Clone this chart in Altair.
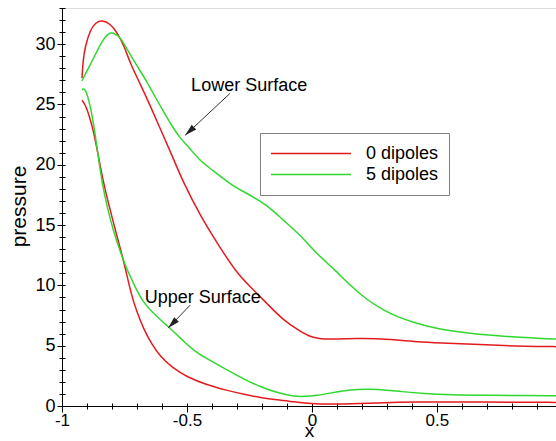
import altair as alt
import pandas as pd

FONT = "Liberation Sans"
RED = "#e31b1f"
GREEN = "#2fd82f"
SERIES = ["0 dipoles", "5 dipoles"]

# 0 dipoles, lower surface
red_lower_x = [-0.92, -0.915, -0.907, -0.887, -0.865, -0.84, -0.807, -0.78, -0.75, -0.727,
               -0.687, -0.647, -0.607, -0.56, -0.514, -0.447, -0.379, -0.3, -0.247, -0.18,
               -0.114, -0.047, -0.007, 0.033, 0.1, 0.18, 0.26, 0.34, 0.42, 0.52,
               0.62, 0.72, 0.82, 0.9, 0.977]
red_lower_y = [27.2, 28.8, 29.8, 31.2, 31.8, 32.0, 31.7, 31.0, 29.8, 28.4,
               26.7, 24.9, 23.0, 20.8, 18.5, 15.8, 13.5, 11.0, 9.9, 8.5,
               7.1, 6.2, 5.74, 5.55, 5.55, 5.6, 5.6, 5.47, 5.33, 5.23,
               5.14, 5.05, 4.97, 4.94, 4.92]

# 5 dipoles, lower surface
green_lower_x = [-0.92, -0.9, -0.874, -0.847, -0.814, -0.79, -0.767, -0.74, -0.7, -0.66,
                 -0.627, -0.59, -0.56, -0.527, -0.49, -0.447, -0.394, -0.327, -0.267, -0.207,
                 -0.16, -0.114, -0.047, 0.02, 0.087, 0.153, 0.22, 0.29, 0.353, 0.42,
                 0.487, 0.55, 0.62, 0.72, 0.82, 0.9, 0.977]
green_lower_y = [26.95, 27.8, 28.8, 30.0, 31.0, 30.9, 30.6, 29.6, 28.2, 26.9,
                 25.6, 24.3, 23.2, 22.2, 21.4, 20.3, 19.5, 18.4, 17.7, 17.0,
                 16.3, 15.4, 14.2, 12.6, 11.4, 10.0, 8.8, 7.9, 7.3, 6.85,
                 6.5, 6.25, 6.05, 5.85, 5.7, 5.62, 5.55]

# 0 dipoles, upper surface
red_upper_x = [-0.92, -0.907, -0.89, -0.874, -0.855, -0.834, -0.814, -0.794, -0.774, -0.754,
               -0.72, -0.7, -0.674, -0.64, -0.607, -0.56, -0.5, -0.42, -0.34, -0.27,
               -0.207, -0.14, -0.07, -0.007, 0.08, 0.153, 0.25, 0.42, 0.6, 0.8, 0.977]
red_upper_y = [25.35, 25.0, 24.0, 22.8, 20.8, 18.5, 16.8, 15.2, 13.6, 12.1,
               9.0, 7.8, 6.4, 5.1, 4.1, 3.2, 2.4, 1.75, 1.3, 0.95,
               0.7, 0.5, 0.35, 0.2, 0.15, 0.17, 0.25, 0.34, 0.33, 0.32, 0.3]

# 5 dipoles, upper surface
green_upper_x = [-0.92, -0.911, -0.894, -0.874, -0.857, -0.84, -0.817, -0.794, -0.767, -0.74,
                 -0.71, -0.674, -0.62, -0.567, -0.52, -0.474, -0.41, -0.34, -0.27, -0.207,
                 -0.14, -0.074, -0.03, 0.02, 0.08, 0.153, 0.233, 0.3, 0.353, 0.45,
                 0.553, 0.7, 0.85, 0.977]
green_upper_y = [26.2, 26.4, 25.6, 23.5, 21.0, 18.5, 16.3, 14.5, 12.8, 11.3,
                 10.0, 8.5, 7.4, 6.45, 5.5, 4.6, 3.8, 3.0, 2.2, 1.6,
                 1.1, 0.8, 0.78, 0.88, 1.1, 1.36, 1.4, 1.32, 1.2, 1.03,
                 0.93, 0.88, 0.86, 0.85]

curves = [
    ("0 dipoles", "lower", red_lower_x, red_lower_y),
    ("5 dipoles", "lower", green_lower_x, green_lower_y),
    ("0 dipoles", "upper", red_upper_x, red_upper_y),
    ("5 dipoles", "upper", green_upper_x, green_upper_y),
]
rows = []
for series, surface, xs, ys in curves:
    for xv, yv in zip(xs, ys):
        rows.append({"x": xv, "pressure": yv, "series": series, "surface": surface})
df = pd.DataFrame(rows)

# surface labels with their pointer arrows (text anchor, arrow tail, arrow tip)
ann_label = ["Lower Surface", "Upper Surface"]
ann_x = [-0.251, -0.437]
ann_y = [26.12, 8.56]
arrow_x0 = [-0.327, -0.487]
arrow_y0 = [25.93, 8.37]
arrow_x1 = [-0.507, -0.575]
arrow_y1 = [22.45, 6.46]
arrow_angle = [227, 224]
ann = pd.DataFrame({"label": ann_label, "x": ann_x, "y": ann_y,
                    "x0": arrow_x0, "y0": arrow_y0, "x1": arrow_x1, "y1": arrow_y1,
                    "angle": arrow_angle})

x_major = [-1, -0.5, 0, 0.5]
x_minor = [round(-1 + 0.1 * i, 1) for i in range(20)]
y_major = [0, 5, 10, 15, 20, 25, 30]
y_minor = list(range(0, 34))

x_scale = alt.Scale(domain=[-1, 0.977], nice=False, zero=False)
y_scale = alt.Scale(domain=[0, 33], nice=False)

x_axis = alt.Axis(values=x_major, labelExpr="toString(datum.value)", orient="bottom",
                  tickSize=6, tickColor="black", domainColor="black", grid=False,
                  labelFont=FONT, labelFontSize=17, labelColor="black", labelPadding=0,
                  labelFlush=False, title="x", titleFont=FONT, titleFontSize=19,
                  titleFontWeight="normal", titleColor="black", titleBaseline="alphabetic",
                  titleY=30)
y_axis = alt.Axis(values=y_major, orient="left", tickSize=5, tickColor="black",
                  domainColor="black", grid=False, labelFont=FONT, labelFontSize=18,
                  labelColor="black", labelPadding=2, title="pressure", titleFont=FONT,
                  titleFontSize=21, titleFontWeight="normal", titleColor="black",
                  titleAngle=270, titleAlign="center", titleBaseline="alphabetic",
                  titleX=-37, titleY=198)

x_minor_axis = alt.Axis(values=x_minor, orient="bottom", tickSize=6, offset=-3,
                        tickColor="black", domain=False, labels=False, grid=False, title=None)
y_minor_axis = alt.Axis(values=y_minor, orient="left", tickSize=6, offset=-3,
                        tickColor="black", domain=False, labels=False, grid=False, title=None)

legend = alt.Legend(orient="none", legendX=198, legendY=125, title=None,
                    symbolType="stroke", symbolSize=6400, symbolStrokeWidth=1.5,
                    clipHeight=21, rowPadding=0, labelFont=FONT, labelFontSize=18,
                    labelColor="black", labelOffset=14, padding=10,
                    strokeColor="#808080", fillColor="white")

lines = alt.Chart(df).mark_line(strokeWidth=1.5, interpolate="basis", clip=True).encode(
    x=alt.X("x:Q", scale=x_scale, axis=x_axis),
    y=alt.Y("pressure:Q", scale=y_scale, axis=y_axis),
    color=alt.Color("series:N", scale=alt.Scale(domain=SERIES, range=[RED, GREEN]),
                    legend=legend),
    detail="surface:N",
)

minor = alt.Chart(df).mark_point(opacity=0).encode(
    x=alt.X("x:Q", scale=x_scale, axis=x_minor_axis),
    y=alt.Y("pressure:Q", scale=y_scale, axis=y_minor_axis),
)

labels = alt.Chart(ann).mark_text(font=FONT, fontSize=18, color="black",
                                  baseline="alphabetic", align="center").encode(
    x=alt.X("x:Q", axis=None), y=alt.Y("y:Q", axis=None), text="label:N"
)

arrows = alt.Chart(ann).mark_rule(color="#333333", strokeWidth=1).encode(
    x=alt.X("x0:Q", axis=None), y=alt.Y("y0:Q", axis=None), x2="x1:Q", y2="y1:Q"
)

heads = alt.Chart(ann).mark_point(shape="M0,0L0.55,2L-0.55,2Z", filled=True,
                                  color="#222222", opacity=1, size=144).encode(
    x=alt.X("x1:Q", axis=None), y=alt.Y("y1:Q", axis=None),
    angle=alt.Angle("angle:Q", scale=None)
)

chart = alt.layer(minor, lines, arrows, heads, labels).resolve_axis(
    x="independent", y="independent"
).properties(
    width=494, height=398,
    padding={"left": 62, "top": 8, "right": 0, "bottom": 35},
    autosize=alt.AutoSizeParams(type="none"),
).configure_view(stroke=None).configure(background="white")

chart.save("out.html", embed_options={"renderer": "svg", "actions": False})
